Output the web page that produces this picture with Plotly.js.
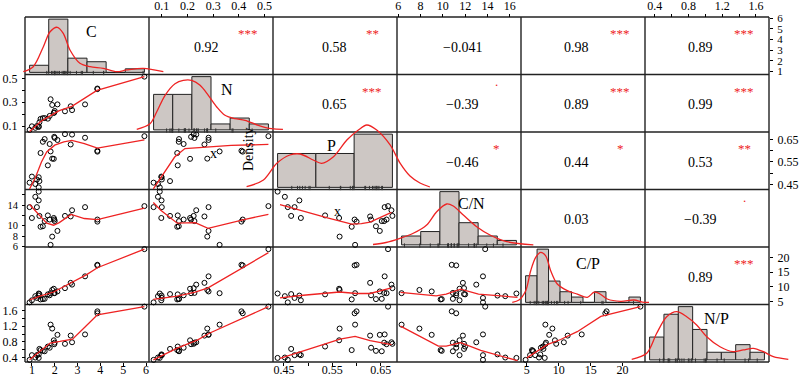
<!DOCTYPE html>
<html><head><meta charset="utf-8">
<script src="https://cdn.plot.ly/plotly-3.0.1.min.js"></script>
<style>html,body{margin:0;padding:0;background:#fff}</style>
</head><body><div id="chart" style="width:800px;height:377px"></div>
<script>
// ---------------- data (25 samples) ----------------
const varNames = ['C','N','P','C/N','C/P','N/P'];
const C  = [0.90,1.00,1.15,1.22,1.30,1.33,1.30,1.38,1.48,1.56,1.70,1.78,1.82,1.89,1.96,1.98,2.00,2.12,2.45,2.70,2.76,3.33,3.87,3.87,5.93];
const N  = [0.068,0.098,0.085,0.100,0.099,0.132,0.092,0.160,0.166,0.167,0.162,0.185,0.325,0.277,0.210,0.214,0.227,0.282,0.224,0.266,0.234,0.282,0.410,0.415,0.515];
const P  = [0.458,0.485,0.452,0.472,0.482,0.465,0.437,0.590,0.640,0.652,0.535,0.630,0.597,0.565,0.564,0.662,0.657,0.648,0.674,0.628,0.672,0.658,0.600,0.596,0.665];
const CN = [13.6,11.5,15.6,13.6,14.9,11.9,16.6,9.8,9.9,10.9,12.0,11.2,6.3,7.9,11.5,11.2,10.9,9.0,11.9,11.8,13.0,13.6,10.8,11.2,13.8];
const CP = [4.8,5.5,6.9,6.3,7.1,7.6,7.8,5.8,5.9,6.0,7.5,7.2,7.9,9.0,9.4,7.9,8.0,8.5,9.6,11.4,10.8,13.6,17.5,17.3,22.8];
const NP = [0.34,0.46,0.40,0.46,0.48,0.62,0.39,0.59,0.57,0.56,0.68,0.65,1.24,1.14,0.84,0.74,0.78,0.98,0.75,0.96,0.79,0.99,1.58,1.53,1.70];

// correlations (upper triangle, row by row) and significance marks
const corrValues = ['0.92','0.58','\u22120.041','0.98','0.89','0.65','\u22120.39','0.89','0.99','\u22120.46','0.44','0.53','0.03','\u22120.39','0.89'];
const corrStars  = ['***','**','','***','***','***','.','***','***','*','*','**','','.','***'];

// histograms (breaks and densities)
const histC_breaks  = [0,1,2,3,4,5,6];            const histC_dens  = [0.08,0.60,0.16,0.12,0,0.04];
const histN_breaks  = [0,0.1,0.2,0.3,0.4,0.5,0.6]; const histN_dens  = [2.4,2.4,3.6,0.4,0.8,0.4];
const histP_breaks  = [0.4,0.5,0.6,0.7];          const histP_dens  = [2.8,2.8,4.4];
const histCN_breaks = [6,8,10,12,14,16,18];       const histCN_dens = [0.04,0.06,0.24,0.10,0.04,0.02];
const histCP_breaks = [4,6,8,10,12,14,16,18,20,22,24]; const histCP_dens = [0.10,0.20,0.08,0.04,0.02,0,0.04,0,0,0.02];
const histNP_breaks = [0.2,0.4,0.6,0.8,1.0,1.2,1.4,1.6,1.8]; const histNP_dens = [0.6,1.2,1.4,0.8,0.2,0.2,0.4,0.2];

// kernel density curves
const densC_x  = [-0.33,0.19,0.72,1.07,1.45,1.76,2.11,2.63,3.16,3.85,4.55,5.07,5.94,6.99];
const densC_y  = [0.008,0.064,0.289,0.458,0.508,0.44,0.252,0.102,0.064,0.046,0.008,0.027,0.046,0.008];
const densN_x  = [-0.088,-0.019,0.016,0.06,0.112,0.155,0.199,0.243,0.286,0.33,0.373,0.425,0.478,0.547,0.617,0.676];
const densN_y  = [0.039,0.417,1.208,2.338,3.122,3.352,3.352,3.014,2.338,1.547,0.985,0.755,0.647,0.309,0.079,0.039];
const densP_x  = [0.319,0.363,0.398,0.432,0.459,0.493,0.515,0.546,0.581,0.611,0.633,0.659,0.694,0.72,0.746,0.772,0.798];
const densP_y  = [0.055,0.609,1.989,2.675,2.758,2.262,1.989,2.535,3.915,4.741,5.154,4.741,3.51,2.01,0.94,0.36,0.03];
const densCN_x = [3.01,4.37,5.83,7.22,8.62,9.67,10.71,11.4,12.45,13.85,15.24,16.99,19.77];
const densCN_y = [0.0017,0.0107,0.0296,0.0522,0.0896,0.1495,0.1842,0.1752,0.1347,0.0819,0.0445,0.0143,0.0];
const densCP_x = [1.68,2.85,4.02,4.89,5.76,6.63,7.5,8.37,9.52,11.27,13.01,14.75,15.92,16.79,18.23,20.57,22.88,24.33,25.5];
const densCP_y = [0.0003,0.0089,0.0438,0.119,0.169,0.188,0.175,0.119,0.069,0.044,0.031,0.019,0.038,0.034,0.0127,0.004,0.0089,0.001,0];
const densNP_x = [-0.049,0.16,0.299,0.438,0.578,0.717,0.856,0.996,1.181,1.367,1.506,1.645,1.785,1.924,2.133];
const densNP_y = [0.015,0.173,0.699,1.135,1.267,1.135,0.917,0.609,0.346,0.215,0.26,0.304,0.215,0.083,0.015];

// smoothers (lower panels): row variable vs column variable
const sm_N_C_x  = [0.90,1.40,1.80,2.20,2.75,3.85,5.93];       const sm_N_C_y  = [0.055,0.14,0.185,0.23,0.265,0.40,0.515];
const sm_P_C_x  = [0.90,1.15,1.42,1.65,2.0,2.4,2.75,3.3,3.87,5.93]; const sm_P_C_y = [0.43,0.48,0.55,0.595,0.625,0.64,0.646,0.632,0.612,0.648];
const sm_P_N_x  = [0.067,0.11,0.15,0.19,0.28,0.37,0.515];     const sm_P_N_y  = [0.43,0.505,0.572,0.61,0.618,0.624,0.628];
const sm_CN_C_x = [0.90,1.35,1.65,1.95,2.2,2.72,3.3,3.87,5.93]; const sm_CN_C_y = [14.1,11.9,10.5,10.1,10.6,12.2,11.4,11.2,13.4];
const sm_CN_N_x = [0.067,0.096,0.16,0.23,0.28,0.42,0.515];    const sm_CN_N_y = [14.5,13.0,10.5,10.6,9.5,11.2,12.2];
const sm_CN_P_x = [0.442,0.49,0.54,0.59,0.61,0.628,0.672];    const sm_CN_P_y = [14.1,12.8,11.5,10.3,10.4,10.7,12.6];
const sm_CP_C_x = [0.90,1.35,1.95,2.72,3.4,3.87,5.93];        const sm_CP_C_y = [5.6,6.9,8.3,11.4,14.2,16.5,22.8];
const sm_CP_N_x = [0.067,0.16,0.23,0.28,0.515];               const sm_CP_N_y = [5.8,6.9,8.3,9.7,21.6];
const sm_CP_P_x = [0.442,0.49,0.565,0.6,0.628,0.672];         const sm_CP_P_y = [6.3,7.2,8.3,7.8,7.8,9.7];
const sm_CP_CN_x = [6.2,9.4,10.3,11.6,13.2,16.7];             const sm_CP_CN_y = [8.2,7.0,7.6,9.3,7.6,6.5];
const sm_NP_C_x = [0.90,1.35,1.8,2.23,2.78,3.35,3.87,5.93];   const sm_NP_C_y = [0.34,0.55,0.77,0.81,0.87,1.19,1.49,1.70];
const sm_NP_N_x = [0.067,0.16,0.24,0.285,0.515];              const sm_NP_N_y = [0.34,0.64,0.85,1.02,1.70];
const sm_NP_P_x = [0.442,0.491,0.539,0.566,0.597,0.628,0.672]; const sm_NP_P_y = [0.38,0.58,0.77,0.87,0.94,0.83,0.73];
const sm_NP_CN_x = [6.2,7.9,9.6,10.3,11.6,13.4,16.7];         const sm_NP_CN_y = [1.20,0.94,0.69,0.69,0.78,0.58,0.32];
const sm_NP_CP_x = [5.0,6.6,8.2,10.3,12.9,16.6,22.8];         const sm_NP_CP_y = [0.39,0.55,0.73,0.86,1.06,1.45,1.70];

// tick values / labels
const ticksC_vals  = [1,2,3,4,5,6];           const ticksC_text  = ['1','2','3','4','5','6'];
const ticksN_vals  = [0.1,0.2,0.3,0.4,0.5];   const ticksN_top   = ['0.1','0.2','0.3','0.4','0.5']; const ticksN_left = ['0.1','','0.3','','0.5'];
const ticksP_vals  = [0.45,0.50,0.55,0.60,0.65]; const ticksP_text = ['0.45','','0.55','','0.65'];
const ticksCN_vals = [6,8,10,12,14,16];       const ticksCN_top  = ['6','8','10','12','14','16']; const ticksCN_left = ['6','8','10','','14',''];
const ticksCP_vals = [5,10,15,20];            const ticksCP_text = ['5','10','15','20'];
const ticksNP_vals = [0.4,0.6,0.8,1.0,1.2,1.4,1.6]; const ticksNP_text = ['0.4','','0.8','','1.2','','1.6'];

// ---------------- build ----------------
const series = [C,N,P,CN,CP,NP];
const histBreaks = [histC_breaks,histN_breaks,histP_breaks,histCN_breaks,histCP_breaks,histNP_breaks];
const histDens = [histC_dens,histN_dens,histP_dens,histCN_dens,histCP_dens,histNP_dens];
const densX = [densC_x,densN_x,densP_x,densCN_x,densCP_x,densNP_x];
const densY = [densC_y,densN_y,densP_y,densCN_y,densCP_y,densNP_y];
const smoothTable = [
 [1,0,sm_N_C_x,sm_N_C_y],[2,0,sm_P_C_x,sm_P_C_y],[2,1,sm_P_N_x,sm_P_N_y],
 [3,0,sm_CN_C_x,sm_CN_C_y],[3,1,sm_CN_N_x,sm_CN_N_y],[3,2,sm_CN_P_x,sm_CN_P_y],
 [4,0,sm_CP_C_x,sm_CP_C_y],[4,1,sm_CP_N_x,sm_CP_N_y],[4,2,sm_CP_P_x,sm_CP_P_y],[4,3,sm_CP_CN_x,sm_CP_CN_y],
 [5,0,sm_NP_C_x,sm_NP_C_y],[5,1,sm_NP_N_x,sm_NP_N_y],[5,2,sm_NP_P_x,sm_NP_P_y],[5,3,sm_NP_CN_x,sm_NP_CN_y],[5,4,sm_NP_CP_x,sm_NP_CP_y]
];
const xTicks = [[ticksC_vals,ticksC_text],[ticksN_vals,ticksN_top],[ticksP_vals,ticksP_text],[ticksCN_vals,ticksCN_top],[ticksCP_vals,ticksCP_text],[ticksNP_vals,ticksNP_text]];
const yTicks = [[ticksC_vals,ticksC_text],[ticksN_vals,ticksN_left],[ticksP_vals,ticksP_text],[ticksCN_vals,ticksCN_left],[ticksCP_vals,ticksCP_text],[ticksNP_vals,ticksNP_text]];

const W=800,H=377, GL=25, GT=17, CW=124, CH=57.5;
const fx = px => px/W, fy = py => 1-py/H;
const colDom = k => [fx(GL+CW*k), fx(GL+CW*(k+1))];
const rowDom = r => [fy(GT+CH*(r+1)), fy(GT+CH*r)];
const padRange = a => {const mn=Math.min(...a), mx=Math.max(...a), r=mx-mn; return [mn-0.04*r, mx+0.04*r];};
const xid = i => i===1?'x':'x'+i, yid = i => i===1?'y':'y'+i;
const xkey = i => i===1?'xaxis':'xaxis'+i, ykey = i => i===1?'yaxis':'yaxis'+i;

const RED='rgb(238,35,35)';
const FONT='"Liberation Serif","Times New Roman",serif';
const layout = {width:W,height:H,margin:{l:0,r:0,t:0,b:0},showlegend:false,
  paper_bgcolor:'#fff',plot_bgcolor:'rgba(0,0,0,0)',
  font:{family:FONT,color:'#000',size:12}, shapes:[], annotations:[], bargap:0};
const traces = [];
const yFont = [11,12,12,10.5,12,12];

for (let k=0;k<6;k++){
  const top = (k%2===1);
  layout[xkey(k+1)] = {domain:colDom(k), range:padRange(series[k]), showgrid:false, zeroline:false, showline:false,
    ticks:'outside', ticklen:3, tickwidth:1, tickcolor:'#000', tickvals:xTicks[k][0], ticktext:xTicks[k][1],
    tickfont:{size:12,family:FONT,color:'#000'}, anchor:'free', position: top?fy(GT):fy(GT+6*CH), side: top?'top':'bottom',
    fixedrange:true, ticklabelstandoff: top?-1:-6, ticklabeloverflow:'allow'};
  const left = (k%2===1);
  layout[ykey(k+1)] = {domain:rowDom(k), range:padRange(series[k]), showgrid:false, zeroline:false, showline:false,
    ticks:'outside', ticklen:3, tickwidth:1, tickcolor:'#000', tickvals:yTicks[k][0], ticktext:yTicks[k][1],
    tickfont:{size:yFont[k],family:FONT,color:'#000'}, anchor:'free', position: left?fx(GL):fx(GL+6*CW), side: left?'left':'right',
    fixedrange:true, ticklabelstandoff:2, ticklabeloverflow:'allow'};
}

// empty helper traces so that every row/column axis is drawn
traces.push({type:'scatter',mode:'markers',x:[null],y:[null],xaxis:'x',yaxis:'y',hoverinfo:'skip'});
traces.push({type:'scatter',mode:'markers',x:[null],y:[null],xaxis:'x6',yaxis:'y6',hoverinfo:'skip'});

// lower panels: scatter + smoother
for (const [r,c,sx,sy] of smoothTable){
  traces.push({type:'scatter',mode:'markers',x:series[c],y:series[r],xaxis:xid(c+1),yaxis:yid(r+1),
    marker:{symbol:'circle-open',size:5,color:'#000',line:{width:1,color:'#000'}},cliponaxis:false,hoverinfo:'skip'});
  traces.push({type:'scatter',mode:'lines',x:sx,y:sy,xaxis:xid(c+1),yaxis:yid(r+1),
    line:{color:RED,width:1.3},hoverinfo:'skip'});
}

// diagonal: histogram + density + rug (own coordinates spanning full paper)
for (let k=0;k<6;k++){
  const b=histBreaks[k], d=histDens[k];
  const a0=b[0], a1=b[b.length-1], pad=0.04*(a1-a0);
  const xr=[a0-pad,a1+pad];
  const m=Math.max(...d); const yr=[-0.04*m,1.04*m];
  const [cx0,cx1]=colDom(k), [cy0,cy1]=rowDom(k);
  const sx=(xr[1]-xr[0])/(cx1-cx0), sy=(yr[1]-yr[0])/(cy1-cy0);
  const ax=7+k;
  layout[xkey(ax)]={domain:[0,1],range:[xr[0]-cx0*sx, xr[1]+(1-cx1)*sx],visible:false,fixedrange:true,anchor:yid(ax)};
  layout[ykey(ax)]={domain:[0,1],range:[yr[0]-cy0*sy, yr[1]+(1-cy1)*sy],visible:false,fixedrange:true,anchor:xid(ax)};
  const mids=[],wid=[];
  for(let i=0;i<d.length;i++){mids.push((b[i]+b[i+1])/2);wid.push(b[i+1]-b[i]);}
  traces.push({type:'bar',x:mids,y:d,width:wid,xaxis:xid(ax),yaxis:yid(ax),
    marker:{color:'#cdc7c4',line:{color:'#222',width:1}},hoverinfo:'skip'});
  traces.push({type:'scatter',mode:'lines',x:densX[k],y:densY[k],xaxis:xid(ax),yaxis:yid(ax),
    line:{color:RED,width:1.3,shape:'spline',smoothing:0.9},hoverinfo:'skip'});
  const rugY = yr[0] + (yr[1]-yr[0])*(1.5/CH);
  traces.push({type:'scatter',mode:'markers',x:series[k],y:series[k].map(()=>rugY),xaxis:xid(ax),yaxis:yid(ax),
    marker:{symbol:'line-ns',size:3,line:{width:1,color:'#333'}},hoverinfo:'skip'});
}

// grid borders
const LC='#222', LW=1.4;
for(let k=0;k<=6;k++){
  layout.shapes.push({type:'line',xref:'paper',yref:'paper',x0:fx(GL+CW*k),x1:fx(GL+CW*k),y0:fy(GT),y1:fy(GT+6*CH),line:{color:LC,width:LW},layer:'below'});
  layout.shapes.push({type:'line',xref:'paper',yref:'paper',x0:fx(GL),x1:fx(GL+6*CW),y0:fy(GT+CH*k),y1:fy(GT+CH*k),line:{color:LC,width:LW},layer:'below'});
}

// correlation texts and stars
const colOffset=[0,-5,-1,3,-7,-7];
let idx=0;
for(let r=0;r<6;r++){for(let c=r+1;c<6;c++){
  const cx=GL+CW*c, cy=GT+CH*r;
  layout.annotations.push({xref:'paper',yref:'paper',x:fx(cx+CW/2+colOffset[c]),y:fy(cy+CH/2+1.5),text:corrValues[idx],
    showarrow:false,font:{size:14,family:FONT,color:'#000'},xanchor:'center',yanchor:'middle'});
  const s=corrStars[idx];
  if(s){
    const dy = s==='.' ? -4 : 5;
    layout.annotations.push({xref:'paper',yref:'paper',x:fx(cx+0.8*CW),y:fy(cy+0.2*CH+dy),text:s,
      showarrow:false,font:{size:13,family:FONT,color:RED},xanchor:'center',yanchor:'middle'});
  }
  idx++;
}}

// variable labels on the diagonal
const labelPos=[[91.7,31.7],[226.7,89.3],[331.7,145],[471.7,203.3],[588.3,263.3],[716.7,318.3]];
for(let k=0;k<6;k++){
  layout.annotations.push({xref:'paper',yref:'paper',x:fx(labelPos[k][0]),y:fy(labelPos[k][1]),text:varNames[k],
    showarrow:false,font:{size:16,family:FONT,color:'#000'},xanchor:'center',yanchor:'middle'});
}
// stray axis titles left by the histogram panels
layout.annotations.push({xref:'paper',yref:'paper',x:fx(213),y:fy(153),text:'x',showarrow:false,font:{size:14,family:FONT},xanchor:'center',yanchor:'middle'});
layout.annotations.push({xref:'paper',yref:'paper',x:fx(337),y:fy(211),text:'x',showarrow:false,font:{size:14,family:FONT},xanchor:'center',yanchor:'middle'});
layout.annotations.push({xref:'paper',yref:'paper',x:fx(249),y:fy(149),text:'Density',textangle:-90,showarrow:false,font:{size:14,family:FONT},xanchor:'center',yanchor:'middle'});

Plotly.newPlot('chart',traces,layout,{displayModeBar:false,staticPlot:true});
</script></body></html>
